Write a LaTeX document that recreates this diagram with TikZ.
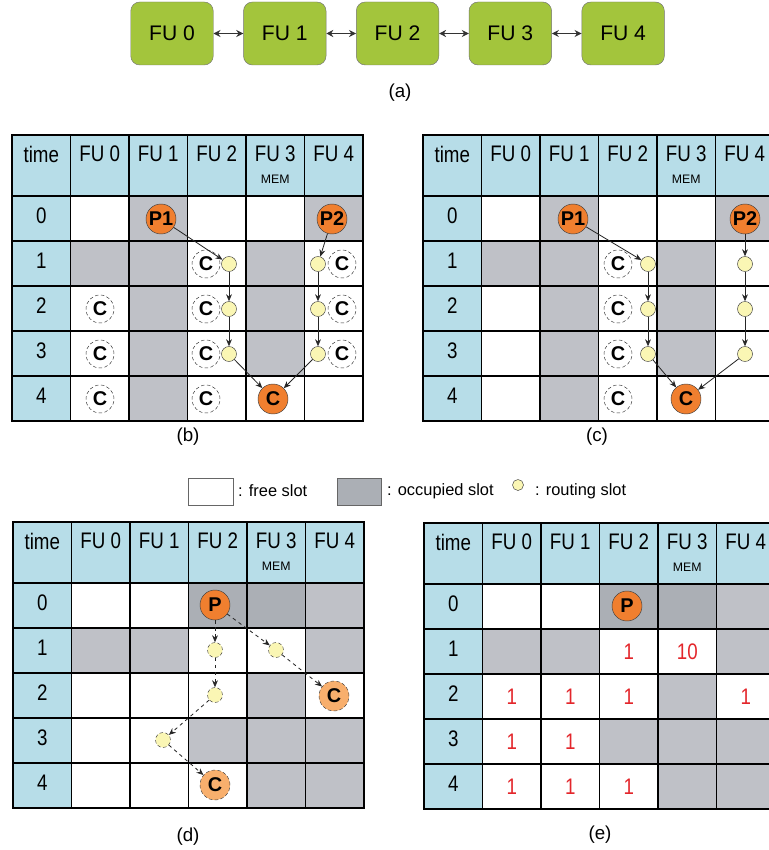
\documentclass[tikz,border=0pt]{standalone}
\usepackage{fontspec}
\setmainfont{Liberation Sans}
\usetikzlibrary{positioning,arrows.meta}

\definecolor{fugreen}{HTML}{A3C53C}
\definecolor{headblue}{HTML}{B7DDE8}
\definecolor{occgray}{HTML}{BFC1C7}
\definecolor{occdark}{HTML}{ABAFB5}
\definecolor{oporange}{HTML}{F07F2F}
\definecolor{oplight}{HTML}{F8AF6D}
\definecolor{routeyellow}{HTML}{FAF6B4}
\definecolor{costred}{HTML}{E3262B}

\newcommand\tallbox[1]{\scalebox{1}[1.2]{#1}}

\tikzset{
  fubox/.style={draw=black!55, fill=fugreen, rounded corners=0.27cm, minimum width=2.475cm, minimum height=1.89cm, font=\fontsize{18}{20}\selectfont},
  slottext/.style={font=\fontsize{16}{18}\selectfont},
  memtext/.style={font=\fontsize{10.5}{12}\selectfont},
  slotline/.style={line width=1.6pt},
  opnode/.style={circle, draw=black!75, fill=oporange, inner sep=0pt, minimum size=0.9cm, font=\fontsize{17}{18}\selectfont\bfseries},
  candnode/.style={circle, draw=black!80, densely dashed, inner sep=0pt, minimum size=0.84cm, font=\fontsize{17}{18}\selectfont\bfseries},
  routenode/.style={circle, draw=black!75, fill=routeyellow, inner sep=0pt, minimum size=0.45cm},
  link/.style={-{Stealth[length=6pt,width=5pt]}, black!85, line width=0.7pt},
  cost/.style={text=costred, font=\fontsize{16}{18}\selectfont},
  sublabel/.style={font=\fontsize{16}{18}\selectfont},
  keytext/.style={font=\fontsize{14}{16}\selectfont, inner sep=0pt, anchor=west},
}

% #1: prefix, #2: occupied slots (FU/time), #3: darker occupied slots
\newcommand\slottable[3]{%
  \fill[headblue] (0,0) rectangle (351,61);
  \fill[headblue] (0,61) rectangle (58.5,286);
  \foreach \k/\t in {#2}
    \fill[occgray] ({58.5*(\k+1)},{61+45*\t}) rectangle ++(58.5,45);
  \foreach \k/\t in {#3}
    \fill[occdark] ({58.5*(\k+1)},{61+45*\t}) rectangle ++(58.5,45);
  \foreach \i in {1,...,5}
    \draw[slotline] ({58.5*\i},0) -- ({58.5*\i},286);
  \foreach \y in {61,106,151,196,241}
    \draw[slotline] (0,\y) -- (351,\y);
  \draw[line width=2.4pt] (0,0) rectangle (351,286);
  \node[slottext] (#1-time) at (29.25,19) {\tallbox{time}};
  \foreach \k in {0,...,4}
    \node[slottext] (#1-fu\k) at ({58.5*\k+87.75},19) {\tallbox{FU \k}};
  \node[memtext] (#1-mem) at (263.25,44) {MEM};
  \foreach \t in {0,...,4}
    \node[slottext] (#1-t\t) at (29.25,{80.5+45*\t}) {\tallbox{\t}};
}

\begin{document}
\begin{tikzpicture}[x=0.03cm,y=-0.03cm]
  \useasboundingbox (0,0) rectangle (769,850);
  \clip (0,0) rectangle (769,850);

  % (a) functional units
  \node[fubox] (fu0) at (172,33.5) {FU 0};
  \node[fubox, right=0.894cm of fu0] (fu1) {FU 1};
  \node[fubox, right=0.894cm of fu1] (fu2) {FU 2};
  \node[fubox, right=0.894cm of fu2] (fu3) {FU 3};
  \node[fubox, right=0.894cm of fu3] (fu4) {FU 4};
  \foreach \a/\b in {fu0/fu1,fu1/fu2,fu2/fu3,fu3/fu4}
    \draw[{Stealth[length=6pt,width=6pt]}-{Stealth[length=6pt,width=6pt]}, line width=1.6pt, black!80] (\a) -- (\b);
  \node[sublabel] (cap-a) at (400,93) {(a)};

  % (b)
  \begin{scope}[shift={(12,135)}]
    \slottable{b}{1/0,4/0,0/1,1/1,3/1,1/2,3/2,1/3,3/3,1/4}{}
  \end{scope}
  \node[opnode] (b-p1) at (161,219) {P1};
  \node[opnode] (b-p2) at (332,219) {P2};
  \node[opnode] (b-c) at (273,399) {C};
  \foreach \t/\y in {1/264,2/309,3/354} {
    \node[routenode] (b-ra\t) at (229,\y) {};
    \node[routenode] (b-rb\t) at (318,\y) {};
    \node[candnode] (b-cb\t) at (342,\y) {C};
  }
  \foreach \t/\y in {1/264,2/309,3/354,4/399}
    \node[candnode] (b-ca\t) at (206,\y) {C};
  \foreach \t/\y in {2/309,3/354,4/399}
    \node[candnode] (b-cz\t) at (100,\y) {C};
  \draw[link] (b-p1) -- (b-ra1);
  \draw[link] (b-p2) -- (b-rb1);
  \draw[link] (b-ra1) -- (b-ra2);
  \draw[link] (b-ra2) -- (b-ra3);
  \draw[link] (b-rb1) -- (b-rb2);
  \draw[link] (b-rb2) -- (b-rb3);
  \draw[link] (b-ra3) -- (b-c);
  \draw[link] (b-rb3) -- (b-c);
  \node[sublabel] (cap-b) at (188,437) {(b)};

  % (c)
  \begin{scope}[shift={(423,135)}]
    \slottable{c}{1/0,4/0,0/1,1/1,3/1,1/2,3/2,1/3,3/3,1/4}{}
  \end{scope}
  \node[opnode] (c-p1) at (573,219) {P1};
  \node[opnode] (c-p2) at (745,219) {P2};
  \node[opnode] (c-c) at (686,399) {C};
  \foreach \t/\y in {1/264,2/309,3/354} {
    \node[routenode] (c-ra\t) at (648,\y) {};
    \node[routenode] (c-rb\t) at (745,\y) {};
  }
  \foreach \t/\y in {1/264,2/309,3/354,4/399}
    \node[candnode] (c-ca\t) at (618,\y) {C};
  \draw[link] (c-p1) -- (c-ra1);
  \draw[link] (c-p2) -- (c-rb1);
  \draw[link] (c-ra1) -- (c-ra2);
  \draw[link] (c-ra2) -- (c-ra3);
  \draw[link] (c-rb1) -- (c-rb2);
  \draw[link] (c-rb2) -- (c-rb3);
  \draw[link] (c-ra3) -- (c-c);
  \draw[link] (c-rb3) -- (c-c);
  \node[sublabel] (cap-c) at (597,437) {(c)};

  % legend
  \node[draw=black!60, fill=white, inner sep=0pt, minimum width=1.35cm, minimum height=0.81cm] (key-free) at (210.5,491.5) {};
  \node[keytext] (key-free-txt) at (238,491) {: free slot};
  \node[draw=black!60, fill=occdark, inner sep=0pt, minimum width=1.32cm, minimum height=0.81cm] (key-occ) at (359,491.5) {};
  \node[keytext] (key-occ-txt) at (387,491) {: occupied slot};
  \node[routenode, minimum size=0.33cm] (key-route) at (518,485) {};
  \node[keytext] (key-route-txt) at (535,491) {: routing slot};

  % (d)
  \begin{scope}[shift={(13,522)}]
    \slottable{d}{4/0,0/1,1/1,4/1,3/2,2/3,3/3,4/3,3/4,4/4}{2/0,3/0}
  \end{scope}
  \node[opnode] (d-p) at (215,605) {P};
  \node[routenode, densely dashed] (d-r1) at (215,650) {};
  \node[routenode, densely dashed] (d-r2) at (276,650) {};
  \node[routenode, densely dashed] (d-r3) at (215,695) {};
  \node[routenode, densely dashed] (d-r4) at (163,740) {};
  \node[opnode, fill=oplight, densely dashed] (d-c1) at (334,696) {C};
  \node[opnode, fill=oplight, densely dashed] (d-c2) at (215,785) {C};
  \draw[link, dashed] (d-p) -- (d-r1);
  \draw[link, dashed] (d-p) -- (d-r2);
  \draw[link, dashed] (d-r2) -- (d-c1);
  \draw[link, dashed] (d-r1) -- (d-r3);
  \draw[link, dashed] (d-r3) -- (d-r4);
  \draw[link, dashed] (d-r4) -- (d-c2);
  \node[sublabel] (cap-d) at (188,837) {(d)};

  % (e)
  \begin{scope}[shift={(424,523)}]
    \slottable{e}{4/0,0/1,1/1,4/1,3/2,2/3,3/3,4/3,3/4,4/4}{2/0,3/0}
  \end{scope}
  \node[opnode] (e-p) at (627,606) {P};
  \foreach \k/\t/\v in {2/1/1,3/1/10,0/2/1,1/2/1,2/2/1,4/2/1,0/3/1,1/3/1,0/4/1,1/4/1,2/4/1}
    \node[cost] (e-n\k\t) at ({511.75+58.5*\k},{606.5+45*\t}) {\tallbox{\v}};
  \node[sublabel] (cap-e) at (600,835) {(e)};
\end{tikzpicture}
\end{document}
